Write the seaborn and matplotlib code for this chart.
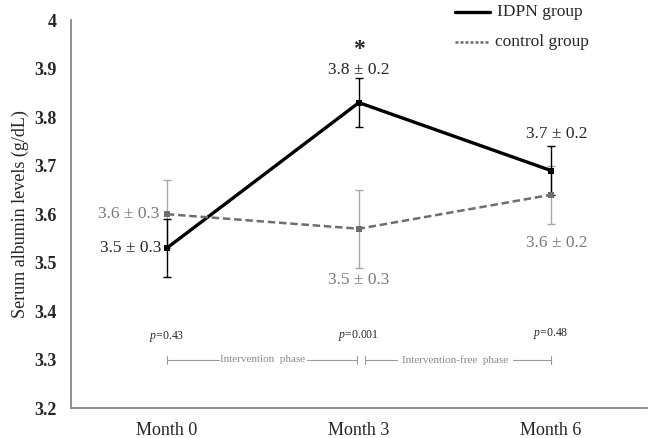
import seaborn as sns
import matplotlib.pyplot as plt
import pandas as pd

# data
months = ['Month 0', 'Month 3', 'Month 6']
idpn_mean = [3.53, 3.83, 3.69]
idpn_err = [0.06, 0.05, 0.05]
ctrl_mean = [3.60, 3.57, 3.64]
ctrl_err = [0.07, 0.08, 0.06]
idpn_labels = ['3.5 ± 0.3', '3.8 ± 0.2', '3.7 ± 0.2']
ctrl_labels = ['3.6 ± 0.3', '3.5 ± 0.3', '3.6 ± 0.2']
p_values = ['0.43', '0.001', '0.48']

sns.set_style('white')
plt.rcParams['font.family'] = ['Liberation Serif', 'DejaVu Serif']
plt.rcParams['mathtext.fontset'] = 'custom'
plt.rcParams['mathtext.it'] = 'Liberation Serif:italic'
plt.rcParams['mathtext.rm'] = 'Liberation Serif'

df = pd.concat([
    pd.DataFrame({'Month': months, 'albumin': idpn_mean, 'group': 'IDPN group'}),
    pd.DataFrame({'Month': months, 'albumin': ctrl_mean, 'group': 'control group'}),
])

fig = plt.figure(figsize=(6.49, 4.38), dpi=100)
ax = fig.add_axes([0.109, 0.068, 0.888, 0.886])

sns.lineplot(data=df, x='Month', y='albumin', hue='group', style='group',
             palette={'IDPN group': 'black', 'control group': '#6e6e6e'},
             dashes={'IDPN group': '', 'control group': (3, 1.5)},
             markers={'IDPN group': 's', 'control group': 's'},
             markersize=4, markeredgewidth=0, ax=ax, legend=False)
for line, lw in zip(ax.lines, [2.4, 1.8]):
    line.set_linewidth(lw)

xs = range(len(months))
ax.errorbar(xs, ctrl_mean, yerr=ctrl_err, fmt='none', ecolor='#a8a8a8',
            elinewidth=1, capsize=3, capthick=1, zorder=1)
ax.errorbar(xs, idpn_mean, yerr=idpn_err, fmt='none', ecolor='black',
            elinewidth=1, capsize=3, capthick=1, zorder=1)

# value annotations
fs = 12.5
ax.text(-0.19, idpn_mean[0], idpn_labels[0], ha='center', va='center', fontsize=fs)
ax.text(1, 3.897, idpn_labels[1], ha='center', va='center', fontsize=fs)
ax.text(1, 3.918, '*', ha='center', va='bottom', fontsize=17, fontweight='bold')
ax.text(2.03, 3.765, idpn_labels[2], ha='center', va='center', fontsize=fs)
ax.text(-0.2, ctrl_mean[0], ctrl_labels[0], ha='center', va='center', fontsize=fs, color='#7a7a7a')
ax.text(1.0, 3.465, ctrl_labels[1], ha='center', va='center', fontsize=fs, color='#7a7a7a')
ax.text(2.03, 3.54, ctrl_labels[2], ha='center', va='center', fontsize=fs, color='#7a7a7a')

# p-values
for x, p, y in zip(xs, p_values, [3.347, 3.350, 3.353]):
    ax.text(x, y, '$p$=' + p, ha='center', va='center', fontsize=8.5)

# phase brackets
gc = '#9a9a9a'
ax.plot([0, 0.27], [3.3, 3.3], color=gc, lw=0.8)
ax.plot([0.73, 0.99], [3.3, 3.3], color=gc, lw=0.8)
ax.plot([1.03, 1.2], [3.3, 3.3], color=gc, lw=0.8)
ax.plot([1.8, 2.0], [3.3, 3.3], color=gc, lw=0.8)
for bx in [0, 0.99, 1.03, 2.0]:
    ax.plot([bx, bx], [3.292, 3.308], color=gc, lw=0.8)
ax.text(0.5, 3.3, 'Intervention  phase', ha='center', va='center', fontsize=8, color='#8a8a8a')
ax.text(1.5, 3.3, 'Intervention-free  phase', ha='center', va='center', fontsize=8, color='#8a8a8a')

# legend drawn by hand like the original
ax.plot([1.5, 1.68], [4.016, 4.016], color='black', lw=2.4, clip_on=False)
ax.text(1.72, 4.016, 'IDPN group', va='center', fontsize=12.5)
ax.plot([1.5, 1.68], [3.955, 3.955], color='#6e6e6e', lw=1.8, ls=(0, (1.2, 0.8)), clip_on=False)
ax.text(1.71, 3.955, 'control group', va='center', fontsize=12.5)

ax.set_xlim(-0.5, 2.5)
ax.set_ylim(3.2, 4.0)
ax.set_yticks([3.2, 3.3, 3.4, 3.5, 3.6, 3.7, 3.8, 3.9, 4.0])
ax.set_yticklabels(['3.2', '3.3', '3.4', '3.5', '3.6', '3.7', '3.8', '3.9', '4'],
                   fontsize=13, fontweight='bold')
ax.set_xticks(list(xs))
ax.set_xticklabels(months, fontsize=13)
ax.set_xlabel('')
ax.set_ylabel('Serum albumin levels (g/dL)', fontsize=13, labelpad=4)
ax.tick_params(axis='y', direction='out', length=4, color='#888888', pad=6)
ax.tick_params(axis='x', length=0, pad=10)

sns.despine(ax=ax)
for s in ['left', 'bottom']:
    ax.spines[s].set_color('#888888')
    ax.spines[s].set_linewidth(1.3)

fig.savefig('out.png', dpi=100)
